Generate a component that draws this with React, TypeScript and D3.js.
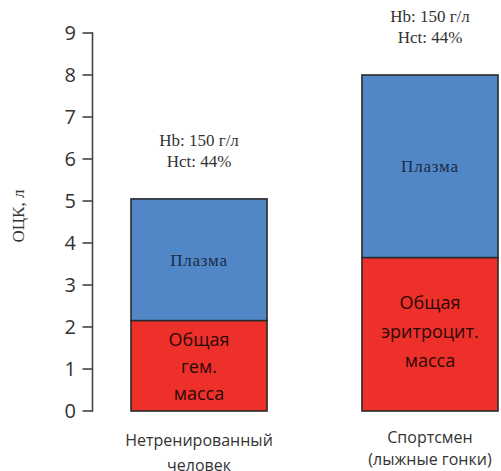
import React from "react";
import * as d3 from "d3";

const categories = ["Нетренированный|человек", "Спортсмен|(лыжные гонки)"];
const rbcValues = [2.15, 3.65];
const totalValues = [5.05, 8.0];
const rbcLabels = ["Общая|гем.|масса", "Общая|эритроцит.|масса"];
const plasmaLabel = "Плазма";
const hbLabel = "Hb: 150 г/л";
const hctLabel = "Hct: 44%";
const yTicks = [0, 1, 2, 3, 4, 5, 6, 7, 8, 9];
const yTitle = "ОЦК, л";

const W = 501;
const H = 471;

export default function App() {
  const x = d3.scaleBand<string>().domain(categories).range([131, 498]).paddingInner(0.411).paddingOuter(0);
  const y = d3.scaleLinear().domain([0, 9]).range([411, 33]);
  const axisX = 92.5;
  const sans = "'Open Sans', 'Noto Sans', sans-serif";
  const serif = "'Liberation Serif', 'DejaVu Serif', serif";
  const bw = x.bandwidth();

  return (
    <svg width={W} height={H} style={{ position: "absolute", left: 0, top: 0, background: "#fff" }}>
      <line x1={axisX} x2={axisX} y1={y(9) - 0.75} y2={y(0) + 0.75} stroke="#444" strokeWidth={1.6} />
      {yTicks.map((t) => (
        <g key={t}>
          <line x1={axisX - 10} x2={axisX} y1={y(t)} y2={y(t)} stroke="#444" strokeWidth={1.6} />
          <text x={76} y={y(t)} dy="0.35em" textAnchor="end" fontFamily={sans} fontSize={20} fill="#333">
            {t}
          </text>
        </g>
      ))}
      <text
        transform={`translate(24, ${216}) rotate(-90)`}
        textAnchor="middle"
        fontFamily={serif}
        fontSize={17}
        fill="#333"
      >
        {yTitle}
      </text>

      {categories.map((c, i) => {
        const x0 = x(c)!;
        const cx = x0 + bw / 2;
        const yRbc = y(rbcValues[i]);
        const yTot = y(totalValues[i]);
        const rbcLines = rbcLabels[i].split("|");
        const catLines = c.split("|");
        const rbcMid = (yRbc + y(0)) / 2;
        const lh = i === 0 ? 27 : 29;
        return (
          <g key={c}>
            <rect x={x0} y={yTot} width={bw} height={yRbc - yTot} fill="#5287c7" stroke="#2a2a2a" strokeWidth={1.6} />
            <rect x={x0} y={yRbc} width={bw} height={y(0) - yRbc} fill="#ee302a" stroke="#2a2a2a" strokeWidth={1.6} />
            <text x={cx} y={(yTot + yRbc) / 2} dy="0.35em" textAnchor="middle" fontFamily={serif} fontSize={17} fill="#1c2a45" letterSpacing={0.8}>
              {plasmaLabel}
            </text>
            {rbcLines.map((l, k) => (
              <text
                key={k}
                x={cx}
                y={rbcMid + (k - (rbcLines.length - 1) / 2) * lh + (i === 0 ? 1 : -3)}
                dy="0.35em"
                textAnchor="middle"
                fontFamily={sans}
                fontSize={18}
                fill="#2a0806"
              >
                {l}
              </text>
            ))}
            <text x={cx} y={yTot - 59} dy="0.35em" textAnchor="middle" fontFamily={serif} fontSize={17} fill="#333">
              {hbLabel}
            </text>
            <text x={cx} y={yTot - 38} dy="0.35em" textAnchor="middle" fontFamily={serif} fontSize={17} fill="#333">
              {hctLabel}
            </text>
            {catLines.map((l, k) => (
              <text
                key={k}
                x={cx}
                y={(i === 0 ? 440 : 437) + k * (i === 0 ? 25 : 22)}
                dy="0.35em"
                textAnchor="middle"
                fontFamily={sans}
                fontSize={16}
                fill="#333"
              >
                {l}
              </text>
            ))}
          </g>
        );
      })}
    </svg>
  );
}
